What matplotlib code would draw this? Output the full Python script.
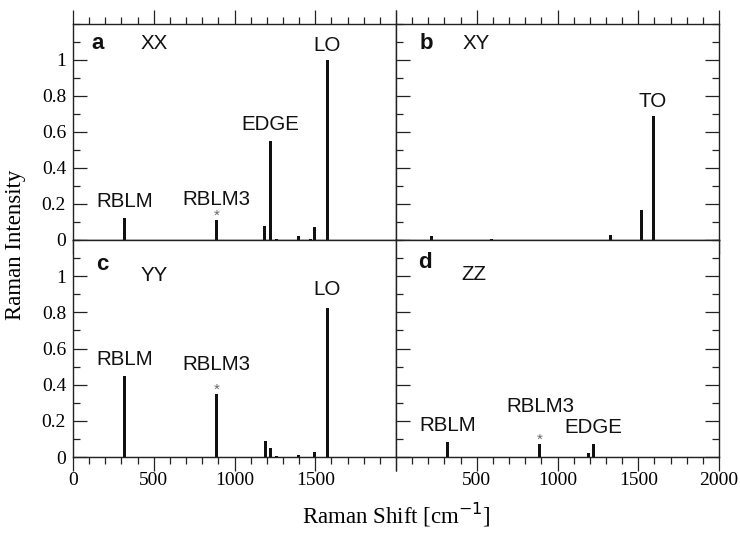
import matplotlib
matplotlib.use("Agg")
import matplotlib.pyplot as plt
from matplotlib.ticker import MultipleLocator, FixedLocator

# Raman shift positions [cm^-1] and relative intensities of each polarisation
xx_shift = [318, 888, 1185, 1223, 1262, 1396, 1468, 1495, 1576]
xx_int = [0.12, 0.11, 0.078, 0.55, 0.005, 0.022, 0.007, 0.072, 1.00]

xy_shift = [217, 589, 1326, 1518, 1595]
xy_int = [0.022, 0.005, 0.030, 0.167, 0.69]

yy_shift = [318, 888, 1190, 1223, 1262, 1398, 1495, 1576]
yy_int = [0.446, 0.346, 0.09, 0.052, 0.004, 0.011, 0.026, 0.824]

zz_shift = [320, 888, 1192, 1223]
zz_int = [0.081, 0.07, 0.022, 0.074]

panel_letters = ["a", "b", "c", "d"]
polarisations = ["XX", "XY", "YY", "ZZ"]
starred_shift = 888  # RBLM3 overtone marked with an asterisk

x_tick_labels = ["0", "500", "1000", "1500", "2000"]
y_tick_labels = ["0", "0.2", "0.4", "0.6", "0.8", "1"]

serif = "Liberation Serif"
sans = "Liberation Sans"

fig = plt.figure(figsize=(7.40, 5.38), dpi=100)

W, H = 740.0, 538.0
x0, xm, x1 = 73 / W, 396 / W, 719 / W
ytop, ymid, ybot = 1 - 24 / H, 1 - 240 / H, 1 - 457 / H

rects = [
    (x0, ymid, xm - x0, ytop - ymid),
    (xm, ymid, x1 - xm, ytop - ymid),
    (x0, ybot, xm - x0, ymid - ybot),
    (xm, ybot, x1 - xm, ymid - ybot),
]

series = [(xx_shift, xx_int), (xy_shift, xy_int), (yy_shift, yy_int), (zz_shift, zz_int)]

# peak annotations: (text, x, y) in data coordinates
peak_text = [
    [("RBLM", 322, 0.213), ("RBLM3", 890, 0.226), ("EDGE", 1220, 0.639), ("LO", 1572, 1.083)],
    [("TO", 1590, 0.772)],
    [("RBLM", 322, 0.539), ("RBLM3", 890, 0.511), ("LO", 1572, 0.924)],
    [("RBLM", 320, 0.172), ("RBLM3", 892, 0.279), ("EDGE", 1223, 0.163)],
]
letter_pos = [(155, 1.089), (186, 1.089), (182, 1.067), (180, 1.078)]
pol_pos = [(502, 1.089), (494, 1.089), (502, 1.006), (483, 1.007)]

bar_color = "#111111"

for i, (rect, (sx, iy)) in enumerate(zip(rects, series)):
    ax = fig.add_axes(rect)
    ax.bar(sx, iy, width=19, color=bar_color, linewidth=0, zorder=3)
    ax.axhline(0, color="#333333", lw=0.8, zorder=2)

    for s, v in zip(sx, iy):
        if s == starred_shift:
            ax.text(s, v - 0.012, "*", ha="center", va="bottom", fontsize=11,
                    color="#666666", family=sans)

    ax.set_xlim(0, 2000)
    ax.set_ylim(0, 1.2)

    for sp in ax.spines.values():
        sp.set_linewidth(1.0)
        sp.set_color("#222222")

    top_row = i < 2
    left_col = i % 2 == 0

    # x ticks: every 500 major, every 100 minor, pointing outward
    ax.xaxis.set_major_locator(FixedLocator([0, 500, 1000, 1500, 2000]))
    ax.xaxis.set_minor_locator(MultipleLocator(100))
    ax.tick_params(axis="x", which="both", direction="out", width=0.9, color="#222222",
                   top=top_row, bottom=True, labelbottom=not top_row, pad=1)
    ax.tick_params(axis="x", which="major", length=10)
    ax.tick_params(axis="x", which="minor", length=5)
    if not top_row:
        if left_col:
            labels = x_tick_labels[:-1] + [""]
        else:
            labels = [""] + x_tick_labels[1:]
        ax.set_xticklabels(labels, family=serif, fontsize=14)

    # y ticks: every 0.2 major, 0.1 minor, pointing inward
    ax.yaxis.set_major_locator(FixedLocator([0, 0.2, 0.4, 0.6, 0.8, 1.0]))
    ax.yaxis.set_minor_locator(MultipleLocator(0.1))
    ax.tick_params(axis="y", which="both", direction="in", width=0.9, color="#222222",
                   left=True, right=not left_col, labelleft=left_col, pad=5)
    ax.tick_params(axis="y", which="major", length=10)
    ax.tick_params(axis="y", which="minor", length=5)
    if left_col:
        ax.set_yticklabels(y_tick_labels, family=serif, fontsize=14)

    lx, ly = letter_pos[i]
    ax.text(lx, ly, panel_letters[i], ha="center", va="center", fontsize=16,
            fontweight="bold", family=sans, color="#111111")
    px, py = pol_pos[i]
    ax.text(px, py, polarisations[i], ha="center", va="center", fontsize=14.8,
            family=sans, color="#111111")
    for t, tx, ty in peak_text[i]:
        ax.text(tx, ty, t, ha="center", va="center", fontsize=14.8,
                family=sans, color="#111111")

fig.text(396 / W, 1 - 515 / H, r"Raman Shift [cm$^{-1}$]", ha="center", va="center",
         fontsize=16.5, family=serif)
fig.text(16 / W, 1 - 245 / H, "Raman Intensity", ha="center", va="center",
         rotation=90, fontsize=16.5, family=serif)

fig.savefig("out.png", dpi=100)
